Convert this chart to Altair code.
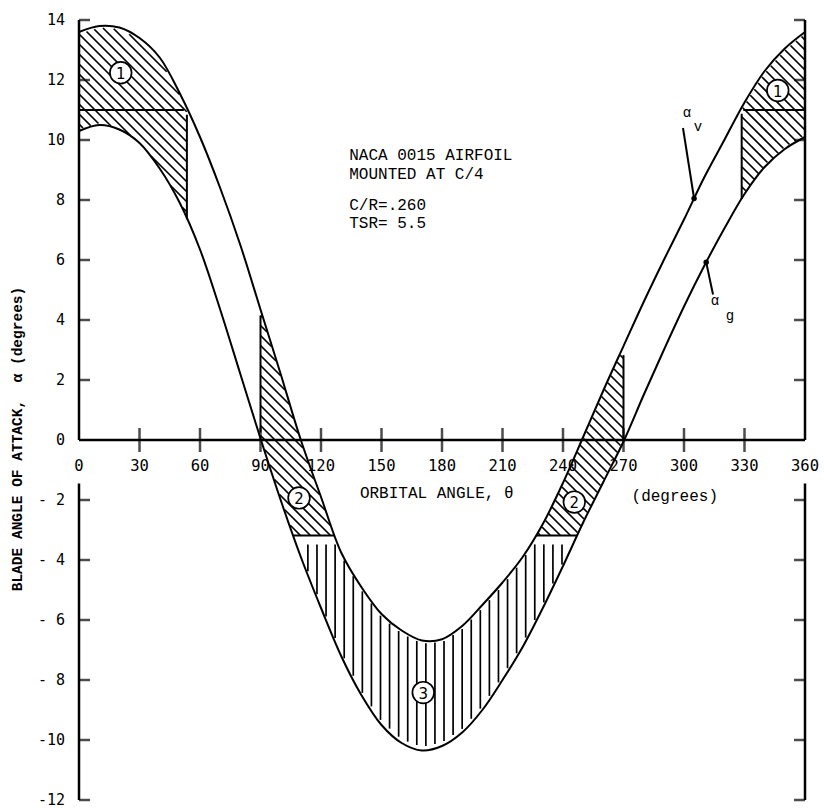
import altair as alt
import numpy as np
import pandas as pd

# ---------------- values ----------------
theta = [0, 10, 20, 30, 40, 50, 60, 70, 80, 90, 100, 110, 120, 130, 140, 150, 160, 170, 180,
         190, 200, 210, 220, 230, 240, 250, 260, 270, 280, 290, 300, 310, 320, 330, 340, 350, 360]
alpha_v = [13.6, 13.8, 13.75, 13.4, 12.75, 11.55, 10.1, 8.4, 6.5, 4.35, 2.2, 0.0, -1.9, -3.75,
           -4.9, -5.8, -6.35, -6.68, -6.64, -6.2, -5.5, -4.75, -3.9, -2.8, -1.43, 0.1, 1.65,
           3.13, 4.6, 6.0, 7.35, 8.75, 10.0, 11.25, 12.3, 13.05, 13.6]
alpha_g = [10.3, 10.5, 10.35, 9.9, 9.05, 7.9, 6.35, 4.35, 2.2, 0.05, -2.0, -3.9, -5.6, -7.2,
           -8.5, -9.5, -10.1, -10.35, -10.2, -9.75, -9.0, -8.0, -6.9, -5.6, -4.2, -2.75, -1.4,
           -0.05, 1.5, 3.0, 4.45, 5.8, 7.05, 8.2, 9.1, 9.7, 10.1]

x_ticks = [0, 30, 60, 90, 120, 150, 180, 210, 240, 270, 300, 330, 360]
x_inner_ticks = [30, 60, 90, 120, 150, 180, 210, 240, 270, 300, 330]
y_ticks = [14, 12, 10, 8, 6, 4, 2, 0, -2, -4, -6, -8, -10, -12]
y_tick_labels = ["14", "12", "10", "8", "6", "4", "2", "0", "- 2", "- 4", "- 6", "- 8", "-10", "-12"]

y_title = "BLADE ANGLE OF ATTACK,\u00a0\u00a0α (degrees)"

# zone boundaries
zone1_left_end = 53.5
zone1_right_start = 328.6
zone1_level = 11.0
zone2_left_start = 90.0
zone2_right_end = 270.0
zone3_level = -3.18
axis_gap_low = -1.45

circle_x = [20.7, 346.5, 109.1, 245.6, 170.7]
circle_y = [12.24, 11.65, -1.93, -2.07, -8.42]
circle_txt = ["1", "1", "2", "2", "3"]

note_lines = ["NACA 0015 AIRFOIL", "MOUNTED AT C/4", "C/R=.260", "TSR= 5.5"]
note_y = [9.51, 8.87, 7.85, 7.24]
note_x = 134.0

marker_v_theta, marker_g_theta = 305.0, 311.0
leader_v_end = (299.5, 10.4)
leader_g_end = (314.4, 4.85)

XMIN, XMAX, YMIN, YMAX = 0, 360, -12, 14
W, H = 726, 780

# ---------------- derived geometry ----------------
th = np.array(theta, float)
av = np.array(alpha_v, float)
ag = np.array(alpha_g, float)
up = lambda x: np.interp(x, th, av)
lo = lambda x: np.interp(x, th, ag)
sx = W / (XMAX - XMIN)
sy = H / (YMAX - YMIN)


def diag_region(x, y):
    band = (y < up(x) - 0.05) & (y > lo(x) + 0.05)
    r1 = (x <= zone1_left_end) | (x >= zone1_right_start)
    r2l = (x >= zone2_left_start) & (x < 180) & (y >= zone3_level)
    r2r = (x > 180) & (x <= zone2_right_end) & (y >= zone3_level)
    return band & (r1 | r2l | r2r)


hx, hy, hx2, hy2 = [], [], [], []
Xs = np.arange(0, W + 0.25, 0.25)
for c in np.arange(-W, H, 10.0):
    Ys = Xs + c
    inside = (Ys >= 0) & (Ys <= H)
    x = Xs / sx
    y = YMAX - Ys / sy
    m = diag_region(x, y) & inside
    edges = np.flatnonzero(np.diff(np.concatenate([[0], m.astype(int), [0]])))
    for a, b in zip(edges[::2], edges[1::2]):
        if b - a > 8:
            hx.append(x[a]); hy.append(y[a]); hx2.append(x[b - 1]); hy2.append(y[b - 1])

for xv in np.arange(104.5, 250, 4.5):
    top = min(up(xv) - 0.1, zone3_level - 0.3)
    bot = lo(xv) + 0.12
    if lo(xv) < zone3_level and top - bot > 0.2:
        hx.append(xv); hy.append(bot); hx2.append(xv); hy2.append(top)

hatch_df = pd.DataFrame({"x": hx, "y": hy, "x2": hx2, "y2": hy2})

fine = np.linspace(0, 360, 36001)


def crossing(f, level, lo_x, hi_x):
    sel = (fine >= lo_x) & (fine <= hi_x)
    xx = fine[sel]
    return xx[np.argmin(np.abs(f(xx) - level))]


bx, by, bx2, by2 = [], [], [], []


def seg(a, b, c, d):
    bx.append(a); by.append(b); bx2.append(c); by2.append(d)


seg(XMIN, zone1_level, zone1_left_end - 1.5, zone1_level)
seg(zone1_right_start + 0.8, zone1_level, XMAX, zone1_level)
seg(zone1_left_end, float(lo(zone1_left_end)), zone1_left_end, float(up(zone1_left_end)) - 0.2)
seg(zone1_right_start, float(lo(zone1_right_start)), zone1_right_start, float(up(zone1_right_start)) - 0.2)
seg(zone2_left_start, float(lo(zone2_left_start)) + 0.2, zone2_left_start, float(up(zone2_left_start)) - 0.2)
seg(zone2_right_end, float(lo(zone2_right_end)), zone2_right_end, float(up(zone2_right_end)) - 0.3)
seg(crossing(lo, zone3_level, 90, 180), zone3_level, crossing(up, zone3_level, 90, 180), zone3_level)
seg(crossing(up, zone3_level, 180, 270), zone3_level, crossing(lo, zone3_level, 180, 270), zone3_level)
bound_df = pd.DataFrame({"x": bx, "y": by, "x2": bx2, "y2": by2})

axis_df = pd.DataFrame({
    "x": [XMIN, XMIN, XMAX, XMAX, XMIN],
    "y": [YMAX, axis_gap_low, YMAX, axis_gap_low, 0],
    "x2": [XMIN, XMIN, XMAX, XMAX, XMAX],
    "y2": [0, YMIN, 0, YMIN, 0],
})

pv = (marker_v_theta, float(up(marker_v_theta)))
pg = (marker_g_theta, float(lo(marker_g_theta)))
leader_df = pd.DataFrame({
    "x": [pv[0], pg[0]], "y": [pv[1], pg[1]],
    "x2": [leader_v_end[0], leader_g_end[0]], "y2": [leader_v_end[1], leader_g_end[1]],
})
dots_df = pd.DataFrame({"x": [pv[0], pg[0]], "y": [pv[1], pg[1]]})

greek_df = pd.DataFrame({
    "x": [301.5, 306.9, 315.4, 322.8],
    "y": [10.9, 10.44, 4.62, 4.12],
    "t": ["α", "v", "α", "g"],
})

# ---------------- chart ----------------
xs = alt.Scale(domain=[XMIN, XMAX], nice=False, zero=False)
ys = alt.Scale(domain=[YMIN, YMAX], nice=False, zero=False)
MONO = "Liberation Mono"
NUM = "DejaVu Sans Mono"


def X(f="x"):
    return alt.X(f"{f}:Q", scale=xs, axis=None)


def Y(f="y"):
    return alt.Y(f"{f}:Q", scale=ys, axis=None)


curve_df = pd.DataFrame({
    "x": theta + theta,
    "y": alpha_v + alpha_g,
    "s": ["v"] * len(theta) + ["g"] * len(theta),
})

curves = alt.Chart(curve_df).mark_line(color="black", strokeWidth=2, interpolate="catmull-rom").encode(
    x=X(), y=Y(), detail="s:N")

hatch = alt.Chart(hatch_df).mark_rule(color="black", strokeWidth=1.7).encode(
    x=X(), y=Y(), x2="x2:Q", y2="y2:Q")
bounds = alt.Chart(bound_df).mark_rule(color="black", strokeWidth=2).encode(
    x=X(), y=Y(), x2="x2:Q", y2="y2:Q")
axes = alt.Chart(axis_df).mark_rule(color="black", strokeWidth=2.5).encode(
    x=X(), y=Y(), x2="x2:Q", y2="y2:Q")

yt_df = pd.DataFrame({"y": [v for v in y_ticks if v != 0]})
left_ticks = alt.Chart(yt_df).mark_tick(orient="horizontal", size=11, thickness=2.5, color="black").encode(
    x=alt.value(5.5), y=Y())
right_ticks = alt.Chart(yt_df).mark_tick(orient="horizontal", size=11, thickness=2.5, color="black").encode(
    x=alt.value(W - 5.5), y=Y())

yl_df = pd.DataFrame({"x": [XMIN] * len(y_ticks), "y": y_ticks, "t": y_tick_labels})
y_labels = alt.Chart(yl_df).mark_text(align="right", baseline="middle", dx=-14, font=NUM,
                                       fontSize=15, color="black").encode(x=X(), y=Y(), text="t:N")

ytitle = alt.Chart(pd.DataFrame({"t": [y_title]})).mark_text(
    angle=270, align="center", baseline="middle", font=MONO, fontSize=14.5, fontWeight="bold",
    color="black").encode(x=alt.value(-61), y=alt.value(419), text="t:N")

xt_df = pd.DataFrame({"x": x_inner_ticks, "y": [0] * len(x_inner_ticks)})
x_tick_marks = alt.Chart(xt_df).mark_tick(orient="vertical", size=24, thickness=2.5, color="black").encode(
    x=X(), y=Y())
xl_df = pd.DataFrame({"x": x_ticks, "y": [0] * len(x_ticks), "t": [str(v) for v in x_ticks]})
x_labels = alt.Chart(xl_df).mark_text(dy=26, font=NUM, fontSize=15.5, color="black").encode(
    x=X(), y=Y(), text="t:N")

xtitle_df = pd.DataFrame({"x": [139.3, 274.0], "y": [-1.76, -1.86],
                          "t": ["ORBITAL ANGLE, θ", "(degrees)"]})
x_title = alt.Chart(xtitle_df).mark_text(align="left", baseline="middle", font=MONO, fontSize=16,
                                          color="black").encode(x=X(), y=Y(), text="t:N")

notes_df = pd.DataFrame({"x": [note_x] * len(note_lines), "y": note_y, "t": note_lines})
notes = alt.Chart(notes_df).mark_text(align="left", baseline="middle", font=MONO, fontSize=16,
                                       color="black").encode(x=X(), y=Y(), text="t:N")

circ_df = pd.DataFrame({"x": circle_x, "y": circle_y, "t": circle_txt})
circles = alt.Chart(circ_df).mark_point(shape="circle", filled=True, fill="white", stroke="black",
                                         strokeWidth=1.7, size=470, opacity=1).encode(x=X(), y=Y())
circle_labels = alt.Chart(circ_df).mark_text(font="DejaVu Sans", fontSize=15, color="black",
                                              baseline="middle", dy=1).encode(x=X(), y=Y(), text="t:N")

leaders = alt.Chart(leader_df).mark_rule(color="black", strokeWidth=2).encode(
    x=X(), y=Y(), x2="x2:Q", y2="y2:Q")
dots = alt.Chart(dots_df).mark_point(shape="circle", filled=True, color="black", size=30,
                                      opacity=1).encode(x=X(), y=Y())
greek = alt.Chart(greek_df).mark_text(font=MONO, fontSize=14, color="black", baseline="middle").encode(
    x=X(), y=Y(), text="t:N")

chart = alt.layer(
    curves, hatch, bounds, axes, left_ticks, right_ticks, y_labels, ytitle, x_tick_marks, x_labels,
    x_title, notes, circles, circle_labels, leaders, dots, greek,
).properties(
    width=W, height=H,
    padding={"left": 79, "top": 20, "right": 19, "bottom": 8},
    autosize=alt.AutoSizeParams(type="none"),
    background="white",
).configure_view(stroke=None)

chart.save("out.html", embed_options={"renderer": "svg", "actions": False})
